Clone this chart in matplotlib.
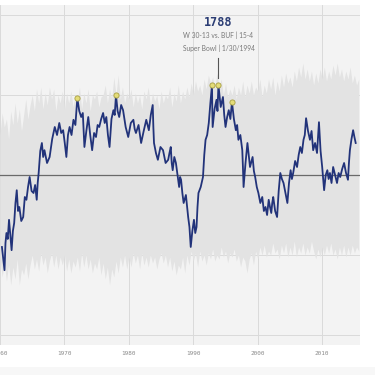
import numpy as np
import matplotlib
matplotlib.use('Agg')
import matplotlib.pyplot as plt

# Team Elo rating over time
team_years = [
    1960.3, 1960.5, 1960.7, 1960.85, 1961.0, 1961.2, 1961.4, 1961.6, 1961.8, 1962.0,
    1962.2, 1962.4, 1962.6, 1962.8, 1963.0, 1963.3, 1963.6, 1963.85, 1964.1, 1964.35,
    1964.6, 1964.9, 1965.2, 1965.45, 1965.7, 1965.85, 1966.0, 1966.25, 1966.5, 1966.7,
    1966.9, 1967.3, 1967.7, 1968.1, 1968.5, 1968.85, 1969.2, 1969.5, 1969.8, 1970.05,
    1970.3, 1970.55, 1970.8, 1971.1, 1971.4, 1971.7, 1972.0, 1972.3, 1972.6, 1972.85,
    1973.1, 1973.4, 1973.7, 1974.0, 1974.3, 1974.6, 1974.9, 1975.15, 1975.4, 1975.7,
    1976.0, 1976.25, 1976.5, 1976.75, 1977.0, 1977.3, 1977.6, 1977.8, 1978.0, 1978.25,
    1978.5, 1978.8, 1979.1, 1979.5, 1979.9, 1980.3, 1980.7, 1980.9, 1981.1, 1981.5,
    1981.9, 1982.3, 1982.7, 1982.9, 1983.1, 1983.4, 1983.7, 1983.8, 1983.9, 1984.2,
    1984.5, 1984.9, 1985.3, 1985.7, 1986.1, 1986.3, 1986.5, 1986.65, 1986.8, 1987.05,
    1987.3, 1987.55, 1987.8, 1987.95, 1988.1, 1988.3, 1988.5, 1988.85, 1989.2, 1989.4,
    1989.6, 1989.85, 1990.1, 1990.3, 1990.5, 1990.65, 1990.8, 1991.15, 1991.5, 1991.7,
    1991.9, 1992.15, 1992.4, 1992.65, 1992.9, 1992.95, 1993.0, 1993.3, 1993.6, 1993.75,
    1993.9, 1994.25, 1994.6, 1994.8, 1995.0, 1995.25, 1995.5, 1995.75, 1996.0, 1996.3,
    1996.6, 1996.8, 1997.0, 1997.3, 1997.6, 1997.7, 1997.8, 1998.1, 1998.4, 1998.8,
    1999.2, 1999.4, 1999.6, 1999.85, 2000.1, 2000.4, 2000.7, 2000.95, 2001.2, 2001.45,
    2001.7, 2001.9, 2002.1, 2002.25, 2002.4, 2002.7, 2003.0, 2003.25, 2003.5, 2003.75,
    2004.0, 2004.3, 2004.6, 2004.85, 2005.1, 2005.3, 2005.5, 2005.8, 2006.1, 2006.35,
    2006.6, 2006.85, 2007.1, 2007.3, 2007.5, 2007.8, 2008.1, 2008.35, 2008.6, 2008.9,
    2009.2, 2009.35, 2009.5, 2009.75, 2010.0, 2010.15, 2010.3, 2010.55, 2010.8, 2011.0,
    2011.2, 2011.45, 2011.7, 2012.0, 2012.3, 2012.55, 2012.8, 2013.1, 2013.4, 2013.7,
    2014.0, 2014.15, 2014.3, 2014.55, 2014.8, 2015.0, 2015.2,
]
team_elo = [
    1320, 1290, 1262, 1330, 1355, 1340, 1388, 1350, 1312, 1360,
    1380, 1430, 1462, 1410, 1420, 1385, 1395, 1445, 1438, 1470,
    1495, 1460, 1455, 1475, 1438, 1480, 1505, 1560, 1580, 1545,
    1562, 1530, 1545, 1590, 1620, 1600, 1630, 1605, 1612, 1580,
    1545, 1600, 1620, 1600, 1638, 1625, 1692, 1660, 1645, 1655,
    1570, 1610, 1645, 1600, 1562, 1605, 1595, 1625, 1620, 1640,
    1655, 1630, 1645, 1600, 1570, 1640, 1662, 1650, 1700, 1660,
    1645, 1675, 1662, 1620, 1595, 1630, 1638, 1615, 1605, 1625,
    1580, 1610, 1638, 1625, 1612, 1650, 1675, 1620, 1580, 1555,
    1538, 1570, 1562, 1530, 1538, 1555, 1570, 1530, 1512, 1545,
    1530, 1500, 1470, 1495, 1488, 1455, 1430, 1450, 1395, 1370,
    1320, 1360, 1388, 1355, 1370, 1420, 1455, 1470, 1495, 1550,
    1588, 1600, 1630, 1680, 1725, 1660, 1620, 1665, 1688, 1660,
    1725, 1670, 1695, 1650, 1620, 1645, 1662, 1640, 1682, 1640,
    1612, 1625, 1588, 1600, 1562, 1520, 1470, 1530, 1580, 1520,
    1545, 1510, 1495, 1470, 1455, 1430, 1445, 1410, 1420, 1400,
    1438, 1420, 1405, 1430, 1445, 1410, 1395, 1460, 1505, 1490,
    1480, 1455, 1430, 1480, 1512, 1490, 1505, 1535, 1520, 1550,
    1570, 1555, 1588, 1600, 1642, 1610, 1588, 1610, 1562, 1580,
    1555, 1595, 1632, 1560, 1520, 1490, 1462, 1500, 1512, 1490,
    1505, 1480, 1520, 1500, 1480, 1505, 1495, 1515, 1530, 1505,
    1488, 1530, 1562, 1590, 1612, 1595, 1580,
]

# Peak ratings marked with circles
peak_years = [1972.0, 1978.0, 1992.9, 1993.9, 1996.0]
peak_elo = [1692, 1700, 1725, 1725, 1682]

# Range of all teams' ratings, three readings per year from 1960 to 2015
band_high = [
    1600, 1655, 1620, 1640, 1590, 1660, 1625, 1680, 1630, 1665, 1610, 1650,
    1690, 1640, 1675, 1700, 1660, 1715, 1680, 1720, 1665, 1705, 1675, 1720,
    1690, 1715, 1660, 1700, 1680, 1710, 1665, 1705, 1680, 1710, 1670, 1700,
    1685, 1720, 1665, 1705, 1680, 1715, 1660, 1700, 1690, 1710, 1670, 1695,
    1700, 1725, 1680, 1715, 1690, 1745, 1700, 1750, 1690, 1720, 1680, 1705,
    1690, 1715, 1670, 1705, 1680, 1700, 1665, 1710, 1690, 1720, 1675, 1705,
    1685, 1700, 1665, 1710, 1680, 1700, 1690, 1720, 1670, 1705, 1685, 1725,
    1680, 1710, 1690, 1720, 1695, 1730, 1700, 1735, 1710, 1725, 1700, 1740,
    1715, 1750, 1730, 1745, 1715, 1755, 1720, 1740, 1700, 1730, 1695, 1715,
    1700, 1725, 1690, 1720, 1700, 1735, 1695, 1725, 1705, 1735, 1700, 1720,
    1710, 1740, 1695, 1725, 1705, 1740, 1715, 1745, 1700, 1735, 1710, 1750,
    1720, 1755, 1730, 1745, 1720, 1760, 1735, 1770, 1745, 1780, 1740, 1765,
    1735, 1760, 1725, 1755, 1730, 1765, 1740, 1770, 1735, 1760, 1740, 1775,
    1750, 1780, 1745, 1765, 1735, 1760, 1740, 1770, 1730, 1750, 1725, 1740,
]
band_low = [
    1295, 1245, 1280, 1235, 1275, 1225, 1270, 1240, 1290, 1225, 1265, 1250,
    1280, 1240, 1275, 1300, 1265, 1290, 1260, 1305, 1275, 1295, 1255, 1285,
    1305, 1270, 1300, 1265, 1295, 1275, 1300, 1260, 1290, 1255, 1285, 1270,
    1295, 1260, 1305, 1270, 1300, 1265, 1290, 1255, 1280, 1265, 1295, 1250,
    1280, 1240, 1270, 1225, 1265, 1245, 1285, 1255, 1295, 1270, 1300, 1265,
    1295, 1270, 1305, 1280, 1300, 1265, 1305, 1275, 1295, 1270, 1300, 1280,
    1295, 1265, 1290, 1305, 1280, 1300, 1270, 1295, 1260, 1285, 1250, 1275,
    1265, 1295, 1255, 1300, 1275, 1310, 1285, 1305, 1270, 1310, 1285, 1300,
    1275, 1305, 1290, 1315, 1285, 1300, 1290, 1320, 1295, 1310, 1280, 1305,
    1295, 1315, 1285, 1300, 1270, 1295, 1285, 1255, 1290, 1305, 1275, 1310,
    1290, 1320, 1300, 1325, 1295, 1310, 1300, 1330, 1305, 1315, 1290, 1325,
    1305, 1330, 1295, 1320, 1300, 1335, 1295, 1320, 1305, 1330, 1300, 1320,
    1305, 1335, 1310, 1290, 1315, 1295, 1320, 1300, 1325, 1305, 1330, 1300,
    1315, 1290, 1320, 1300, 1325, 1295, 1320, 1300, 1325, 1305, 1320, 1310,
]
band_years = np.linspace(1960.0, 2015 + 2 / 3, len(band_high))

decades = [1960, 1970, 1980, 1990, 2000, 2010]
grid_elo = [1100, 1300, 1700, 1900]

fig = plt.figure(figsize=(3.75, 3.75), dpi=100)
fig.patch.set_facecolor('white')
fig.patches.append(plt.Rectangle((0, 0), 1, 8 / 375, transform=fig.transFigure,
                                 facecolor='#f7f7f7', edgecolor='none', zorder=0))

ax = fig.add_axes([0, 30 / 375, 360 / 375, 340 / 375])
ax.set_facecolor('#f3f3f3')

ax.fill_between(band_years, band_low, band_high, color='#e3e3e3', lw=0, zorder=1)

for y in grid_elo:
    ax.axhline(y, color='#dadada', lw=0.7, zorder=0.5)
for d in decades:
    ax.axvline(d, color='#dadada', lw=0.7, zorder=0.5)
ax.axhline(1500, color='#6a6a6a', lw=0.9, zorder=2)

ax.plot(team_years, team_elo, color='#22337a', lw=1.3, zorder=3)
ax.scatter(peak_years, peak_elo, s=14, facecolor='#e4dc78', edgecolor='#a9a042',
           lw=0.6, zorder=4)

# annotation for the top rating
ax.plot([1993.9, 1993.9], [1742, 1792], color='#555555', lw=0.8, zorder=4)
ax.text(1993.9, 1880, '1788', ha='center', va='center', fontsize=8.5,
        fontweight='bold', family='DejaVu Sans Mono', color='#2b3d74')
ax.text(1993.9, 1850, 'W 30-13 vs. BUF | 15-4', ha='center', va='center',
        fontsize=4.8, family='Lato', color='#777777')
ax.text(1993.9, 1818, 'Super Bowl | 1/30/1994', ha='center', va='center',
        fontsize=4.8, family='Lato', color='#777777')

ax.set_xlim(1960.27, 1960.27 + 360 / 6.475)
ax.set_ylim(1075, 1925)
ax.set_xticks(decades)
ax.set_xticklabels([str(d) for d in decades], fontsize=4.3,
                   family='DejaVu Sans Mono', color='#8a8a8a')
ax.set_yticks([])
ax.tick_params(axis='x', length=0, pad=4)
for spine in ax.spines.values():
    spine.set_visible(False)

fig.savefig('out.png', dpi=100, facecolor='white')
